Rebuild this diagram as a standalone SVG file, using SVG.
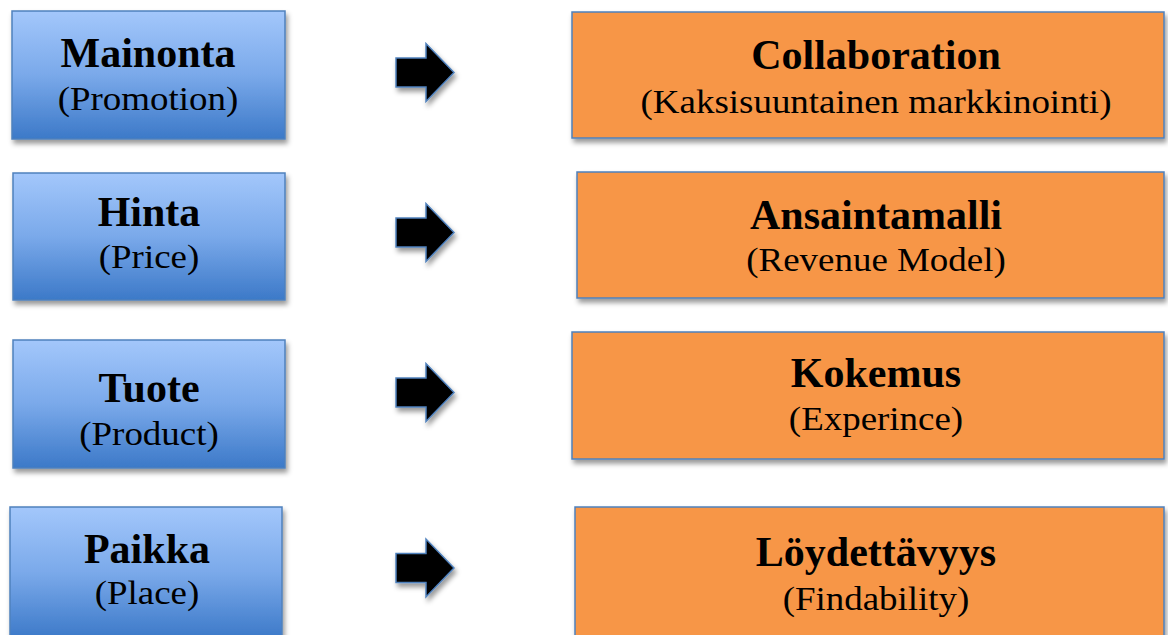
<svg xmlns="http://www.w3.org/2000/svg" width="1168" height="635" viewBox="0 0 1168 635">
<defs>
<linearGradient id="blueGrad" x1="0" y1="0" x2="0" y2="1">
<stop offset="0" stop-color="#a3c7fb"/>
<stop offset="0.5" stop-color="#7aa9ea"/>
<stop offset="1" stop-color="#3c79c8"/>
</linearGradient>
<filter id="shadow" x="-10%" y="-10%" width="130%" height="140%">
<feDropShadow dx="2" dy="4" stdDeviation="2.5" flood-color="#000" flood-opacity="0.4"/>
</filter>
<path id="arrowShape" d="M0,-14.5 L30,-14.5 L30,-29 L58,0 L30,29 L30,14.5 L0,14.5 Z"/>
</defs>
<style>
.blue{fill:url(#blueGrad);stroke:#4f81bd;stroke-width:1.5;filter:url(#shadow)}
.orange{fill:#f79646;stroke:#4f81bd;stroke-width:1.5;filter:url(#shadow)}
.arrow{fill:#000;stroke:#4f81bd;stroke-width:1.5;filter:url(#shadow)}
.title{font-family:"Liberation Serif","Times New Roman",serif;font-weight:bold;font-size:42px;fill:#000;text-anchor:middle}
.sub{font-family:"Liberation Serif","Times New Roman",serif;font-size:33px;fill:#000;text-anchor:middle}
</style>
<rect width="1168" height="635" fill="#fff"/>

<g id="mainonta">
<rect class="blue" x="12" y="11" width="273" height="128"/>
<text class="title" x="148" y="67">Mainonta</text>
<text class="sub" transform="translate(148,110) scale(1.12,1)">(Promotion)</text>
</g>
<g id="hinta">
<rect class="blue" x="13" y="173" width="272" height="127"/>
<text class="title" x="149" y="226">Hinta</text>
<text class="sub" transform="translate(149,268) scale(1.12,1)">(Price)</text>
</g>
<g id="tuote">
<rect class="blue" x="13" y="340" width="272" height="128"/>
<text class="title" x="149" y="402">Tuote</text>
<text class="sub" transform="translate(149,445) scale(1.12,1)">(Product)</text>
</g>
<g id="paikka">
<rect class="blue" x="10" y="507" width="272" height="132"/>
<text class="title" x="147" y="563">Paikka</text>
<text class="sub" transform="translate(147,604) scale(1.12,1)">(Place)</text>
</g>

<g id="collaboration">
<rect class="orange" x="572" y="12" width="592" height="126"/>
<text class="title" x="876" y="69">Collaboration</text>
<text class="sub" transform="translate(876,113) scale(1.12,1)">(Kaksisuuntainen markkinointi)</text>
</g>
<g id="ansaintamalli">
<rect class="orange" x="577" y="172" width="587" height="126"/>
<text class="title" x="876" y="229">Ansaintamalli</text>
<text class="sub" transform="translate(876,271) scale(1.12,1)">(Revenue Model)</text>
</g>
<g id="kokemus">
<rect class="orange" x="572" y="332" width="592" height="127"/>
<text class="title" x="876" y="387">Kokemus</text>
<text class="sub" transform="translate(876,430) scale(1.12,1)">(Experince)</text>
</g>
<g id="loydettavyys">
<rect class="orange" x="575" y="507" width="589" height="132"/>
<text class="title" x="876" y="566">Löydettävyys</text>
<text class="sub" transform="translate(876,610) scale(1.12,1)">(Findability)</text>
</g>

<g id="connectors">
<use href="#arrowShape" class="arrow" transform="translate(396,72.5)"/>
<use href="#arrowShape" class="arrow" transform="translate(396,232.5)"/>
<use href="#arrowShape" class="arrow" transform="translate(396,392.5)"/>
<use href="#arrowShape" class="arrow" transform="translate(396,568)"/>
</g>
</svg>
